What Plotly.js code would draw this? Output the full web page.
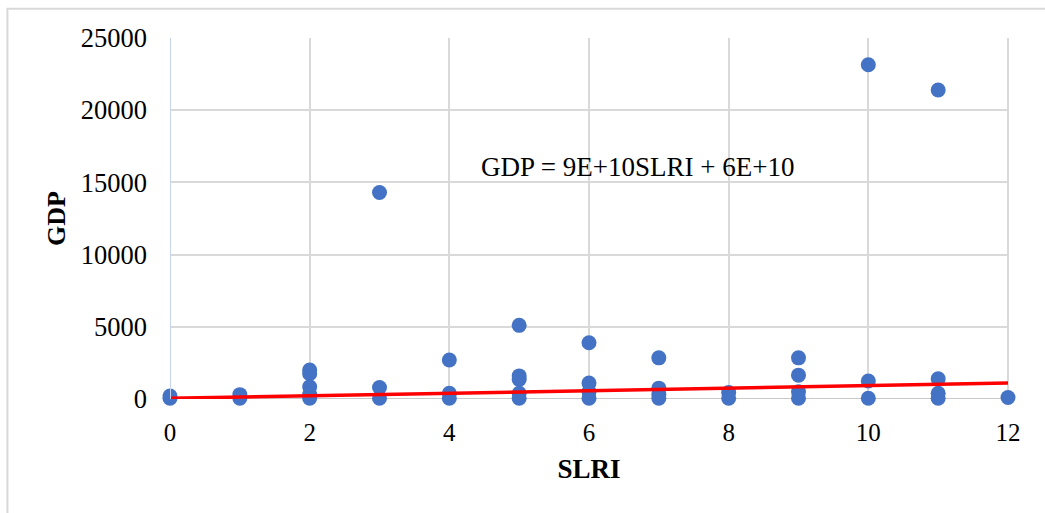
<!DOCTYPE html>
<html>
<head>
<meta charset="utf-8">
<script src="https://cdn.plot.ly/plotly-3.0.1.min.js"></script>
<style>html,body{margin:0;padding:0;background:#fff;}#chart{width:1045px;height:513px;}</style>
</head>
<body>
<div id="chart"></div>
<script>
// Scatter data: SLRI (x) and GDP (y)
const slri = [0,0, 1,1, 2,2,2,2,2, 3,3,3, 4,4,4, 5,5,5,5,5, 6,6,6,6, 7,7,7,7, 8,8, 9,9,9,9, 10,10,10, 11,11,11,11, 12];
const gdp  = [50,200, 50,300, 2000,1750,850,300,50, 14300,800,50, 2700,400,50, 5100,1600,1350,400,50, 3900,1100,500,50, 2850,750,300,50, 450,50, 2850,1650,500,50, 23150,1250,50, 21400,1400,400,50, 100];
// Linear trendline endpoints
const trendX = [0, 12];
const trendY = [50, 1100];
const equationText = "GDP = 9E+10SLRI + 6E+10";
const xTicks = [0,2,4,6,8,10,12];
const yTicks = [0,5000,10000,15000,20000,25000];

const font = "Liberation Serif, Times New Roman, serif";

const traces = [
  {x: slri, y: gdp, type: 'scatter', mode: 'markers',
   marker: {color: '#4472C4', size: 15}, cliponaxis: false, hoverinfo: 'x+y'},
  {x: trendX, y: trendY, type: 'scatter', mode: 'lines',
   line: {color: '#FF0000', width: 3.5}}
];

const layout = {
  width: 1045, height: 513,
  margin: {l: 170, r: 37, t: 38, b: 114},
  paper_bgcolor: '#ffffff', plot_bgcolor: '#ffffff',
  showlegend: false,
  font: {family: font, color: '#000', size: 24},
  xaxis: {
    range: [0, 12], tickvals: xTicks, ticktext: xTicks.map(String),
    showgrid: true, gridcolor: '#d9d9d9', gridwidth: 2,
    zeroline: false, showline: false, ticks: '',
    tickfont: {family: font, size: 25}, ticklabelstandoff: 16,
    title: {text: '<b>SLRI</b>', font: {family: font, size: 27}, standoff: 14}
  },
  yaxis: {
    range: [0, 25000], tickvals: yTicks, ticktext: yTicks.map(String),
    showgrid: true, gridcolor: '#d9d9d9', gridwidth: 2,
    zeroline: false, showline: false, ticks: '',
    tickfont: {family: font, size: 26.5}, ticklabelstandoff: 22,
    title: {text: '<b>GDP</b>', font: {family: font, size: 26}, standoff: 7}
  },
  shapes: [
    {type: 'line', xref: 'x', yref: 'paper', x0: 0, x1: 0, y0: 0, y1: 1,
     line: {color: '#c5d5ee', width: 2}, layer: 'above'},
    {type: 'line', xref: 'paper', yref: 'y', x0: 0, x1: 1, y0: 0, y1: 0,
     line: {color: '#c8c8c8', width: 2}, layer: 'below'},
    {type: 'line', xref: 'paper', yref: 'paper', x0: 1, x1: 1, y0: 0, y1: 1,
     line: {color: '#d9d9d9', width: 2}, layer: 'below'},
    {type: 'rect', xref: 'paper', yref: 'paper', x0: -0.194, x1: 1.3, y0: -0.5, y1: 1.081,
     line: {color: '#d9d9d9', width: 2}, fillcolor: 'rgba(0,0,0,0)', layer: 'below'}
  ],
  annotations: [
    {x: 6.7, y: 16100, xref: 'x', yref: 'y', text: equationText, showarrow: false,
     font: {family: font, size: 27, color: '#000'}}
  ]
};

Plotly.newPlot('chart', traces, layout, {displayModeBar: false, staticPlot: true});
</script>
</body>
</html>
